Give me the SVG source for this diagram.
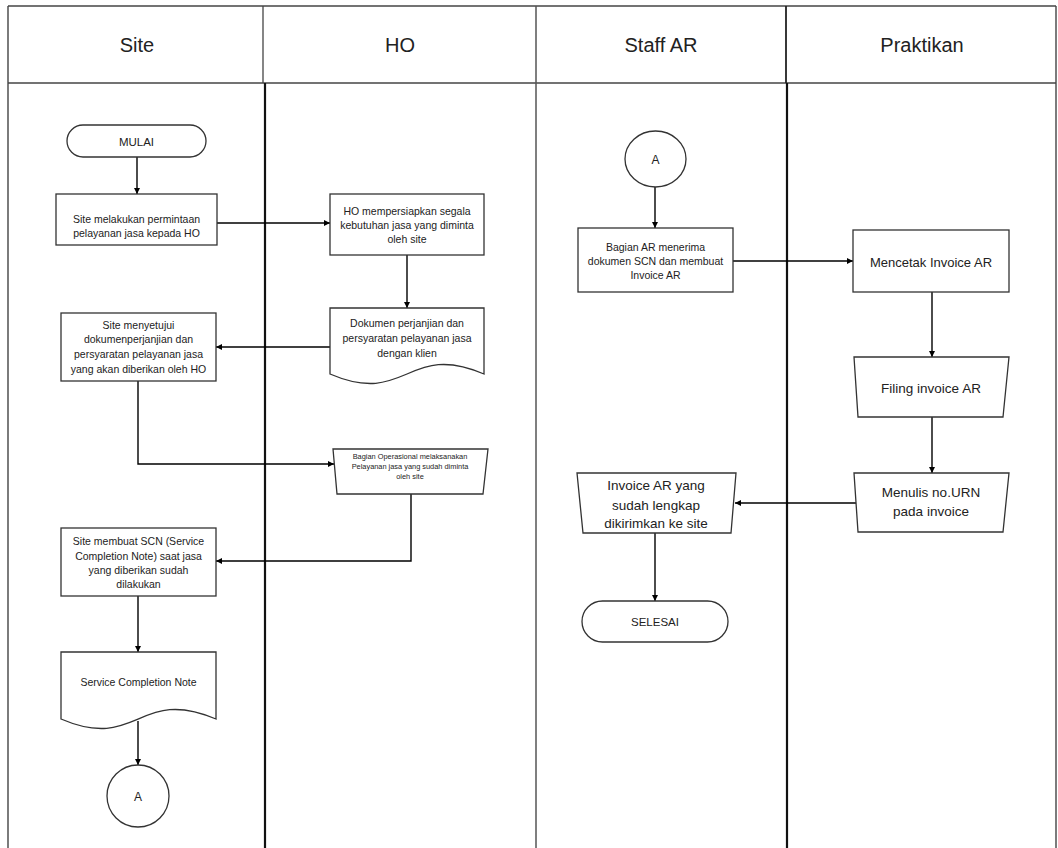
<svg xmlns="http://www.w3.org/2000/svg" width="1058" height="848" viewBox="0 0 1058 848">
<defs>
<marker id="ah" markerUnits="userSpaceOnUse" markerWidth="7" markerHeight="7" refX="6" refY="3" orient="auto"><path d="M0,0 L6,3 L0,6 Z" fill="#000"/></marker>
<style>
.sh{fill:#fff;stroke:#333;stroke-width:1.3}
.t{font-family:"Liberation Sans",Arial,sans-serif;fill:#222;text-anchor:middle}
.s{font-size:10.5px}
.m{font-size:13.5px}
.h{font-size:20px}
.c{fill:none;stroke:#000;stroke-width:1.4;marker-end:url(#ah)}
</style>
</defs>
<rect width="1058" height="848" fill="#fff"/>
<g id="lanes">
<line x1="8" y1="6" x2="1056" y2="6" stroke="#444" stroke-width="1.4"/>
<line x1="8" y1="83" x2="1056" y2="83" stroke="#444" stroke-width="1.4"/>
<line x1="8" y1="6" x2="8" y2="848" stroke="#444" stroke-width="1.4"/>
<line x1="1056" y1="6" x2="1056" y2="848" stroke="#444" stroke-width="1.4"/>
<line x1="263" y1="6" x2="263" y2="83" stroke="#444" stroke-width="1.3"/>
<line x1="265" y1="83" x2="265" y2="848" stroke="#111" stroke-width="2.2"/>
<line x1="536" y1="6" x2="536" y2="848" stroke="#555" stroke-width="1.5"/>
<line x1="786" y1="6" x2="786" y2="83" stroke="#222" stroke-width="1.8"/>
<line x1="787" y1="83" x2="787" y2="848" stroke="#111" stroke-width="2.2"/>
<text class="t h" x="137" y="52">Site</text>
<text class="t h" x="400" y="52">HO</text>
<text class="t h" x="661" y="52">Staff AR</text>
<text class="t h" x="922" y="52">Praktikan</text>
</g>
<g id="connectors">
<path class="c" d="M137,157 V194"/>
<path class="c" d="M217,223 H330"/>
<path class="c" d="M407,255 V308"/>
<path class="c" d="M330,347 H216"/>
<path class="c" d="M138,381 V464 H334"/>
<path class="c" d="M411,494 V561 H216"/>
<path class="c" d="M138,596 V652"/>
<path class="c" d="M138,721 V765"/>
<path class="c" d="M655,187 V228"/>
<path class="c" d="M733,261 H853"/>
<path class="c" d="M932,292 V357"/>
<path class="c" d="M932,417 V473"/>
<path class="c" d="M858,503 H735"/>
<path class="c" d="M655,533 V601"/>
</g>
<g id="mulai">
<rect class="sh" x="67" y="125" width="139" height="32" rx="16"/>
<text class="t" x="136.5" y="145.5" font-size="11.5">MULAI</text>
</g>
<g id="site-request">
<rect class="sh" x="56" y="194" width="161" height="51"/>
<text class="t s" x="136.5" y="222.5">Site melakukan permintaan</text>
<text class="t s" x="136.5" y="236.5">pelayanan jasa kepada HO</text>
</g>
<g id="ho-prepare">
<rect class="sh" x="330" y="194" width="154" height="61"/>
<text class="t s" x="407" y="214.5">HO mempersiapkan segala</text>
<text class="t s" x="407" y="228.5">kebutuhan jasa yang diminta</text>
<text class="t s" x="407" y="242.5">oleh site</text>
</g>
<g id="ho-doc">
<path class="sh" d="M330,308 H484 V374 C407,341 407,407 330,374 Z"/>
<text class="t s" x="407" y="326.5">Dokumen perjanjian dan</text>
<text class="t s" x="407" y="341.5">persyaratan pelayanan jasa</text>
<text class="t s" x="407" y="356.5">dengan klien</text>
</g>
<g id="site-approve">
<rect class="sh" x="61" y="313" width="155" height="68"/>
<text class="t s" x="138.5" y="328.5">Site menyetujui</text>
<text class="t s" x="138.5" y="342.5">dokumenperjanjian dan</text>
<text class="t s" x="138.5" y="357.5">persyaratan pelayanan jasa</text>
<text class="t s" x="138.5" y="372.5">yang akan diberikan oleh HO</text>
</g>
<g id="ho-operasional">
<path class="sh" d="M333,449 H488 L483,494 H337 Z"/>
<text class="t" x="410" y="458.5" font-size="7.4">Bagian Operasional melaksanakan</text>
<text class="t" x="410" y="468.5" font-size="7.4">Pelayanan jasa yang sudah diminta</text>
<text class="t" x="410" y="478.5" font-size="7.4">oleh site</text>
</g>
<g id="site-scn">
<rect class="sh" x="61" y="528" width="155" height="68"/>
<text class="t s" x="138.5" y="544.5">Site membuat SCN (Service</text>
<text class="t s" x="138.5" y="559.5">Completion Note) saat jasa</text>
<text class="t s" x="138.5" y="573.5">yang diberikan sudah</text>
<text class="t s" x="138.5" y="587.5">dilakukan</text>
</g>
<g id="scn-doc">
<path class="sh" d="M61,652 H216 V719 C138,686 138,752 61,719 Z"/>
<text class="t s" x="138.5" y="685.5">Service Completion Note</text>
</g>
<g id="site-a">
<circle class="sh" cx="138" cy="796" r="31"/>
<text class="t" x="138" y="800.5" font-size="12">A</text>
</g>
<g id="ar-a">
<ellipse class="sh" cx="655.5" cy="159" rx="30.5" ry="28"/>
<text class="t" x="655.5" y="163.5" font-size="12">A</text>
</g>
<g id="ar-receive">
<rect class="sh" x="578" y="228" width="155" height="64"/>
<text class="t s" x="655.5" y="250.5">Bagian AR menerima</text>
<text class="t s" x="655.5" y="264.5">dokumen SCN dan membuat</text>
<text class="t s" x="655.5" y="278.5">Invoice AR</text>
</g>
<g id="pr-print">
<rect class="sh" x="853" y="230" width="156" height="62"/>
<text class="t" x="931" y="266.5" font-size="13">Mencetak Invoice AR</text>
</g>
<g id="pr-filing">
<path class="sh" d="M854,357 H1009 L1003,417 H858 Z"/>
<text class="t m" x="931" y="393">Filing invoice AR</text>
</g>
<g id="pr-urn">
<path class="sh" d="M854,473 H1009 L1003,532 H858 Z"/>
<text class="t m" x="931" y="497">Menulis no.URN</text>
<text class="t m" x="931" y="516">pada invoice</text>
</g>
<g id="ar-send">
<path class="sh" d="M577,473 H736 L731,533 H583 Z"/>
<text class="t m" x="656" y="490">Invoice AR yang</text>
<text class="t m" x="656" y="510">sudah lengkap</text>
<text class="t m" x="656" y="528">dikirimkan ke site</text>
</g>
<g id="selesai">
<rect class="sh" x="582" y="601" width="146" height="41" rx="20.5"/>
<text class="t" x="655" y="626" font-size="11.5">SELESAI</text>
</g>
</svg>
